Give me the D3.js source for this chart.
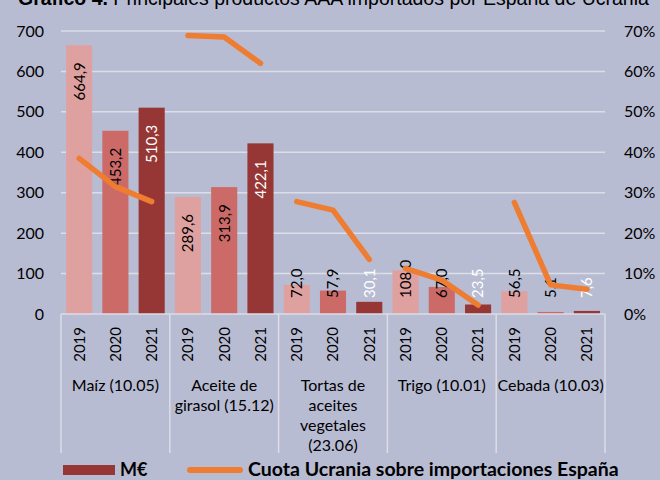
<!DOCTYPE html>
<html><head><meta charset="utf-8">
<script src="https://cdn.jsdelivr.net/npm/d3@7"></script>
<style>
html,body{margin:0;padding:0;background:#b8bcd3;}
svg{display:block;font-family:Lato,"Open Sans",sans-serif;}
</style></head>
<body>
<svg id="c" width="660" height="480"></svg>
<script>
const categories = [["Maíz (10.05)"], ["Aceite de","girasol (15.12)"], ["Tortas de","aceites","vegetales","(23.06)"], ["Trigo (10.01)"], ["Cebada (10.03)"]];
const years = ["2019","2020","2021"];
const valuesME = [
  [664.9, 453.2, 510.3],
  [289.6, 313.9, 422.1],
  [72.0, 57.9, 30.1],
  [108.0, 67.0, 23.5],
  [56.5, 5.1, 7.6]
];
const cuota = [
  [0.385, 0.315, 0.278],
  [0.689, 0.685, 0.620],
  [0.278, 0.257, 0.135],
  [0.113, 0.084, 0.022],
  [0.276, 0.072, 0.061]
];
const leftTicks = [0,100,200,300,400,500,600,700];
const rightTicks = [0,0.1,0.2,0.3,0.4,0.5,0.6,0.7];
const titleBold = "Gráfico 4.";
const titleRest = " Principales productos AAA importados por España de Ucrania";
const legendBar = "M€";
const legendLine = "Cuota Ucrania sobre importaciones España";

const yearColors = ["#dfa1a0","#cc6a68","#963735"];
const labelColors = ["#000","#000","#fff"];
const bg = "#b8bcd3", grid = "#dcdde6", orange = "#ee7d31";

const svg = d3.select("#c");
const L = 61, R = 605, T = 31, B = 314;

const slots = [];
categories.forEach((c,ci)=>years.forEach((y,yi)=>slots.push({ci,yi,key:ci+"-"+yi,year:y,v:valuesME[ci][yi],p:cuota[ci][yi]})));

const x = d3.scaleBand().domain(slots.map(d=>d.key)).range([L,R]).paddingInner(0.28).paddingOuter(0.14);
const xc = d => x(d.key) + x.bandwidth()/2;
const y = d3.scaleLinear().domain([0,700]).range([B,T]);
const y2 = d3.scaleLinear().domain([0,0.7]).range([B,T]);

// title (cut off at the top edge, as in the reference)
const tt = svg.append("text").attr("x",18).attr("y",5).attr("font-family","'Liberation Sans',Arial,sans-serif").attr("font-size",19.5).attr("fill","#000");
tt.append("tspan").attr("font-weight","bold").text(titleBold);
tt.append("tspan").text(titleRest);

// gridlines
svg.append("g").selectAll("line").data(leftTicks.slice(1)).join("line")
  .attr("x1",L).attr("x2",R).attr("y1",d=>y(d)).attr("y2",d=>y(d))
  .attr("stroke",grid).attr("stroke-width",1.5);

// left axis
const ya = d3.axisLeft(y).tickValues(leftTicks).tickSize(0).tickPadding(0).tickFormat(d3.format("d"));
const gL = svg.append("g").attr("transform",`translate(44,0)`).call(ya);
gL.select(".domain").remove();
gL.selectAll("text").attr("font-size",16).attr("fill","#000").attr("font-family","Lato,sans-serif");

// right axis
const ya2 = d3.axisRight(y2).tickValues(rightTicks).tickSize(0).tickPadding(0).tickFormat(d3.format(".0%"));
const gR = svg.append("g").attr("transform",`translate(624,0)`).call(ya2);
gR.select(".domain").remove();
gR.selectAll("text").attr("font-size",16).attr("fill","#000").attr("font-family","Lato,sans-serif");

// bars
svg.append("g").selectAll("rect").data(slots).join("rect")
  .attr("x",d=>x(d.key)).attr("width",x.bandwidth())
  .attr("y",d=>y(d.v)).attr("height",d=>B-y(d.v))
  .attr("fill",d=>yearColors[d.yi]);

// axis line + separators
svg.append("line").attr("x1",L).attr("x2",R).attr("y1",B).attr("y2",B).attr("stroke",grid).attr("stroke-width",1.5);
const groupW = (R-L)/categories.length;
svg.append("g").selectAll("line").data(d3.range(categories.length+1)).join("line")
  .attr("x1",d=>L+d*groupW).attr("x2",d=>L+d*groupW).attr("y1",B).attr("y2",453)
  .attr("stroke",grid).attr("stroke-width",1.5);

// year labels
svg.append("g").selectAll("text").data(slots).join("text")
  .attr("transform",d=>`translate(${xc(d)},327) rotate(-90)`)
  .attr("text-anchor","end").attr("dy","0.36em")
  .attr("font-size",15).attr("fill","#000").text(d=>d.year);

// category labels
const cg = svg.append("g");
categories.forEach((lines,ci)=>{
  const cx = L + groupW*(ci+0.5);
  lines.forEach((ln,li)=>{
    cg.append("text").attr("x",cx).attr("y",391+li*20).attr("text-anchor","middle")
      .attr("font-size",16).attr("fill","#000").text(ln);
  });
});

// value labels
const fmt = v => d3.format(".1f")(v).replace(".",",");
const vl = svg.append("g").selectAll("text").data(slots).join("text")
  .attr("text-anchor","start").attr("dy","0.36em")
  .attr("font-size",15).attr("fill",d=>labelColors[d.yi]).text(d=>fmt(d.v));
vl.each(function(d){
  const len = this.getComputedTextLength();
  const bottom = Math.min(y(d.v)+17+len, 298);
  d3.select(this).attr("transform",`translate(${xc(d)},${bottom}) rotate(-90)`);
});

// lines
const line = d3.line().x(d=>xc(d)).y(d=>y2(d.p));
svg.append("g").selectAll("path").data(categories.map((c,ci)=>slots.filter(s=>s.ci===ci))).join("path")
  .attr("d",line).attr("fill","none").attr("stroke",orange).attr("stroke-width",5.5)
  .attr("stroke-linecap","round").attr("stroke-linejoin","round");

// legend
svg.append("rect").attr("x",63).attr("y",465).attr("width",52).attr("height",10).attr("fill",yearColors[2]);
svg.append("text").attr("x",120).attr("y",476).attr("font-size",18).attr("font-weight","bold").attr("fill","#000").text(legendBar);
svg.append("line").attr("x1",190).attr("x2",240).attr("y1",470).attr("y2",470).attr("stroke",orange).attr("stroke-width",6).attr("stroke-linecap","round");
svg.append("text").attr("x",248).attr("y",476).attr("font-size",19.5).attr("font-weight","bold").attr("fill","#000").text(legendLine);
</script>
</body></html>
